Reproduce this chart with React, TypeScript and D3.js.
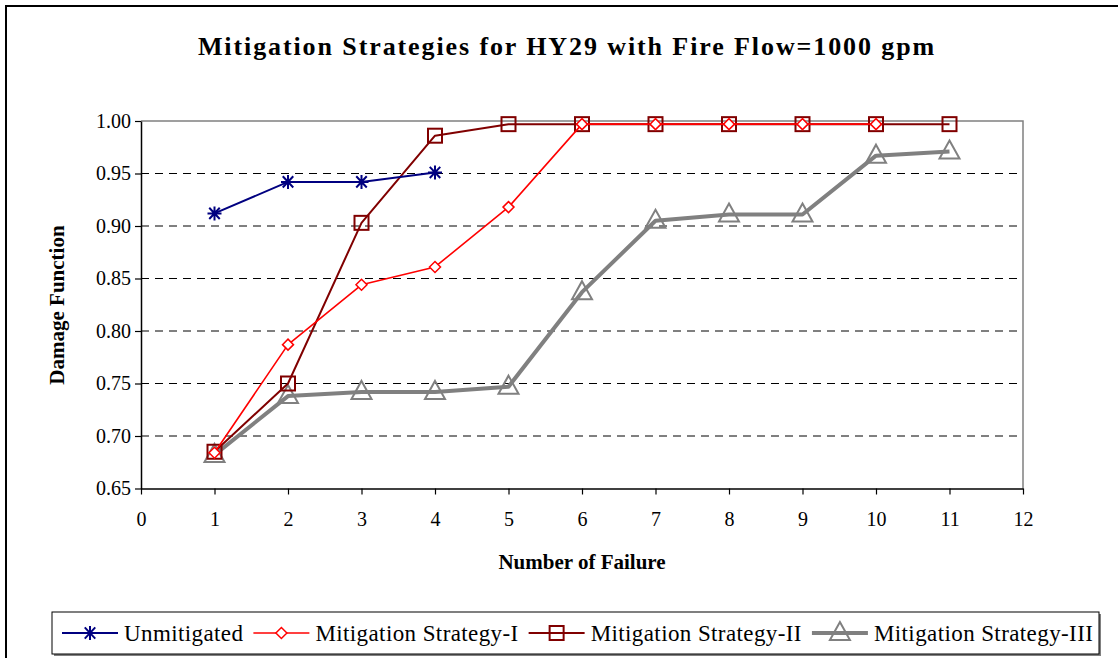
import { useEffect, useRef } from "react";
import * as d3 from "d3";

const failures = [1, 2, 3, 4, 5, 6, 7, 8, 9, 10, 11];
const unmitigated = [0.912, 0.942, 0.942, 0.951];
const strategyI = [0.684, 0.787, 0.844, 0.861, 0.918, 0.997, 0.997, 0.997, 0.997, 0.997];
const strategyII = [0.685, 0.75, 0.903, 0.986, 0.997, 0.997, 0.997, 0.997, 0.997, 0.997, 0.997];
const strategyIII = [0.682, 0.738, 0.742, 0.742, 0.747, 0.837, 0.905, 0.911, 0.911, 0.967, 0.971];
const xTicks = [0, 1, 2, 3, 4, 5, 6, 7, 8, 9, 10, 11, 12];
const yTicks = [0.65, 0.7, 0.75, 0.8, 0.85, 0.9, 0.95, 1.0];
const seriesNames = ["Unmitigated", "Mitigation Strategy-I", "Mitigation Strategy-II", "Mitigation Strategy-III"];

const FONT = "'Liberation Serif', 'Times New Roman', serif";

type Series = { name: string; values: number[]; color: string; width: number; marker: string };

const App = () => {
  const ref = useRef<SVGSVGElement>(null);

  useEffect(() => {
    const svg = d3.select(ref.current);
    svg.selectAll("*").remove();

    const series: Series[] = [
      { name: seriesNames[0], values: unmitigated, color: "#000080", width: 2, marker: "star" },
      { name: seriesNames[1], values: strategyI, color: "#ff0000", width: 1.6, marker: "diamond" },
      { name: seriesNames[2], values: strategyII, color: "#800000", width: 2, marker: "square" },
      { name: seriesNames[3], values: strategyIII, color: "#808080", width: 4, marker: "triangle" },
    ];

    const x = d3.scaleLinear().domain([0, 12]).range([141, 1023]);
    const y = d3.scaleLinear().domain([0.65, 1.0]).range([488.5, 121]);

    // outer frame
    svg.append("path").attr("d", "M6,658 V6 H1118").attr("fill", "none").attr("stroke", "#000").attr("stroke-width", 2);

    svg
      .append("text")
      .attr("x", 567)
      .attr("y", 55)
      .attr("text-anchor", "middle")
      .attr("font-family", FONT)
      .attr("font-weight", "bold")
      .attr("font-size", 26)
      .attr("letter-spacing", 1.9)
      .text("Mitigation Strategies for HY29 with Fire Flow=1000 gpm");

    // grid
    svg
      .append("g")
      .selectAll("line")
      .data(yTicks.filter((d) => d > 0.66 && d < 0.99))
      .enter()
      .append("line")
      .attr("x1", x(0))
      .attr("x2", x(12))
      .attr("y1", (d) => y(d))
      .attr("y2", (d) => y(d))
      .attr("stroke", "#000")
      .attr("stroke-width", 1)
      .attr("stroke-dasharray", "8,6");

    // plot border (top / right)
    svg
      .append("path")
      .attr("d", `M${x(0)},${y(1)} H${x(12)} V${y(0.65)}`)
      .attr("fill", "none")
      .attr("stroke", "#808080")
      .attr("stroke-width", 1.5);

    const xAxis = svg
      .append("g")
      .attr("transform", `translate(0,${y(0.65)})`)
      .call(d3.axisBottom(x).tickValues(xTicks).tickSize(6).tickSizeOuter(0).tickFormat(d3.format("d")));
    const yAxis = svg
      .append("g")
      .attr("transform", `translate(${x(0)},0)`)
      .call(d3.axisLeft(y).tickValues(yTicks).tickSize(6).tickSizeOuter(0).tickFormat(d3.format(".2f")));
    [xAxis, yAxis].forEach((a) => {
      a.attr("font-family", FONT).attr("font-size", 20);
      a.select(".domain").attr("stroke", "#000").attr("stroke-width", 1.5);
      a.selectAll(".tick line").attr("stroke", "#000").attr("stroke-width", 1.2);
      a.selectAll(".tick text").attr("font-family", FONT).attr("font-size", 20).attr("fill", "#000");
    });
    xAxis.selectAll(".tick text").attr("dy", "1.4em");
    yAxis.selectAll(".tick text").attr("dx", "-0.05em");

    svg
      .append("text")
      .attr("x", 582)
      .attr("y", 569)
      .attr("text-anchor", "middle")
      .attr("font-family", FONT)
      .attr("font-weight", "bold")
      .attr("font-size", 21)
      .text("Number of Failure");

    svg
      .append("text")
      .attr("transform", `translate(64,305) rotate(-90)`)
      .attr("text-anchor", "middle")
      .attr("font-family", FONT)
      .attr("font-weight", "bold")
      .attr("font-size", 21)
      .text("Damage Function");

    const drawMarker = (g: d3.Selection<SVGGElement, unknown, null, undefined>, s: Series, cx: number, cy: number) => {
      if (s.marker === "star") {
        const r = 7;
        g.append("path")
          .attr("d", `M${cx - r},${cy} H${cx + r} M${cx - r * 0.75},${cy - r * 0.8} L${cx + r * 0.75},${cy + r * 0.8} M${cx - r * 0.75},${cy + r * 0.8} L${cx + r * 0.75},${cy - r * 0.8} M${cx},${cy - r} V${cy + r}`)
          .attr("stroke", s.color)
          .attr("stroke-width", 2)
          .attr("fill", "none");
      } else if (s.marker === "diamond") {
        const r = 5.5;
        g.append("path")
          .attr("d", `M${cx},${cy - r} L${cx + r},${cy} L${cx},${cy + r} L${cx - r},${cy} Z`)
          .attr("stroke", s.color)
          .attr("stroke-width", 1.5)
          .attr("fill", "#fff");
      } else if (s.marker === "square") {
        const r = 7;
        g.append("rect")
          .attr("x", cx - r)
          .attr("y", cy - r)
          .attr("width", 2 * r)
          .attr("height", 2 * r)
          .attr("stroke", s.color)
          .attr("stroke-width", 2)
          .attr("fill", "none");
      } else {
        g.append("path")
          .attr("d", `M${cx},${cy - 11} L${cx + 10},${cy + 7} L${cx - 10},${cy + 7} Z`)
          .attr("stroke", s.color)
          .attr("stroke-width", 2)
          .attr("fill", "none");
      }
    };

    const line = d3
      .line<number>()
      .x((_, i) => x(failures[i]))
      .y((d) => y(d));

    // draw back-to-front: gray, maroon, red, blue
    [3, 2, 1, 0].forEach((k) => {
      const s = series[k];
      const g = svg.append("g");
      g.append("path").attr("d", line(s.values)).attr("fill", "none").attr("stroke", s.color).attr("stroke-width", s.width).attr("stroke-linejoin", "round");
      s.values.forEach((v, i) => drawMarker(g, s, x(failures[i]), y(v)));
    });

    // legend
    const leg = svg.append("g");
    leg.append("rect").attr("x", 54).attr("y", 614).attr("width", 1047).attr("height", 42).attr("fill", "#808080");
    leg.append("rect").attr("x", 52).attr("y", 612).attr("width", 1047).attr("height", 42).attr("fill", "#fff").attr("stroke", "#000").attr("stroke-width", 1);
    let cx = 62;
    const ly = 633;
    series.forEach((s) => {
      const g = leg.append("g");
      g.append("line").attr("x1", cx).attr("x2", cx + 56).attr("y1", ly).attr("y2", ly).attr("stroke", s.color).attr("stroke-width", s.width);
      drawMarker(g, s, cx + 28, ly);
      const t = g
        .append("text")
        .attr("x", cx + 62)
        .attr("y", ly + 8)
        .attr("font-family", FONT)
        .attr("font-size", 23)
        .attr("letter-spacing", 0.4)
        .text(s.name);
      const w = (t.node() as SVGTextElement).getComputedTextLength();
      cx = cx + 62 + w + 10;
    });
  }, []);

  return <svg ref={ref} width={1118} height={658} style={{ display: "block", position: "absolute", left: 0, top: 0 }} />;
};

export default App;
